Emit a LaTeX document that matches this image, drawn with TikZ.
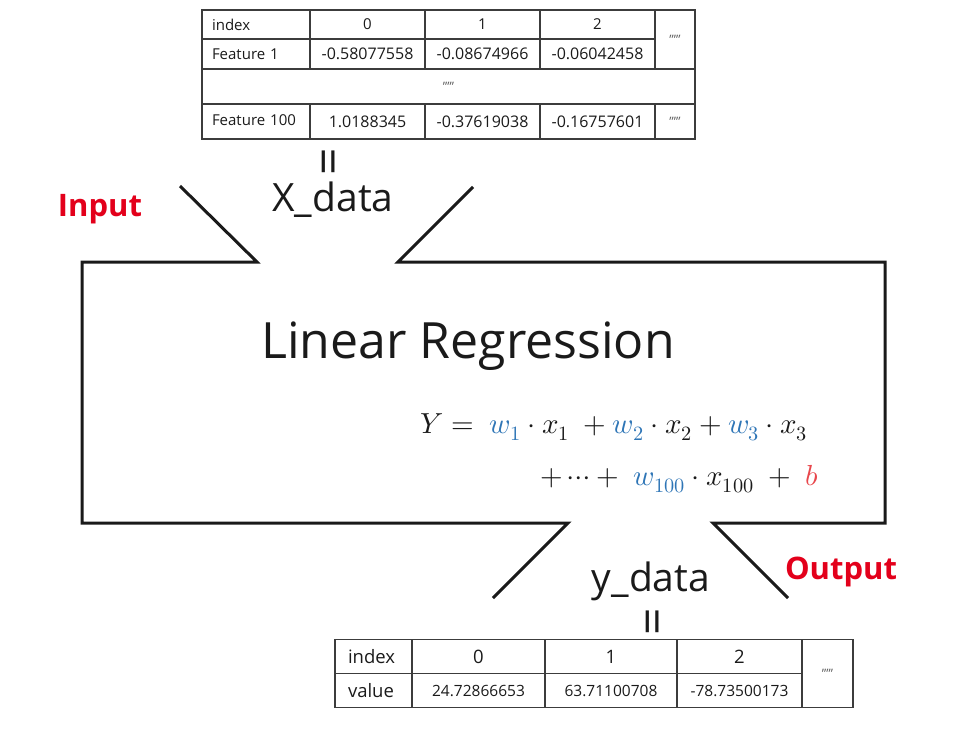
\documentclass[tikz,border=0pt]{standalone}
\usepackage{fontspec}
\usepackage{unicode-math}
\setmainfont{Open Sans}
\definecolor{ink}{HTML}{1A1A1A}
\definecolor{grid}{HTML}{3C3C3C}
\definecolor{wblue}{HTML}{2E75B6}
\definecolor{alert}{HTML}{E3001B}
\definecolor{bias}{HTML}{E8474C}

\begin{document}
\begin{tikzpicture}[
  x=1pt, y=-1pt,
  cell/.style 2 args={draw=grid, line width=1.2pt, inner sep=0pt,
                      minimum width=#1, minimum height=#2,
                      font=\fontsize{15}{17}\selectfont, text=ink},
  num/.style={font=\fontsize{16}{18}\selectfont},
  lead/.style={inner xsep=10pt, text width=#1, align=left},
  big/.style={cell={#1}{34pt}, font=\fontsize{18.5}{20}\selectfont},
  more/.style={font=\fontsize{13}{14}\selectfont, text=grid!80},
  wall/.style={draw=ink, line width=3pt, line join=miter},
  word/.style={font=\fontsize{39}{44}\selectfont, text=ink, inner sep=0pt},
  title/.style={font=\fontsize{50}{58}\selectfont, text=ink, inner sep=0pt},
  eqbar/.style={font=\fontsize{48}{50}\selectfont, text=ink, rotate=90, inner sep=0pt},
  flag/.style={font=\fontsize{31}{36}\selectfont\bfseries, text=alert, inner sep=0pt},
  formula/.style={font=\fontsize{29}{34}\selectfont, text=ink, inner sep=0pt, anchor=base west},
]
\useasboundingbox (0,0) rectangle (972,736);

% X_data table
\node[cell={108pt}{29pt}, lead=88pt] (a11) at (256,24.5) {index};
\node[cell={115pt}{29pt}] (a12) at (367.5,24.5) {0};
\node[cell={115pt}{29pt}] (a13) at (482.5,24.5) {1};
\node[cell={115pt}{29pt}] (a14) at (597.5,24.5) {2};
\node[cell={108pt}{30pt}, lead=88pt] (a21) at (256,54) {Feature 1};
\node[cell={115pt}{30pt}, num] (a22) at (367.5,54) {-0.58077558};
\node[cell={115pt}{30pt}, num] (a23) at (482.5,54) {-0.08674966};
\node[cell={115pt}{30pt}, num] (a24) at (597.5,54) {-0.06042458};
\node[cell={40pt}{59pt}, more] (a15) at (675,39.5) {’’’’’};
\node[cell={493pt}{35pt}, more] (a31) at (448.5,86.5) {\raisebox{-6pt}{’’’’’}};
\node[cell={108pt}{35pt}, lead=88pt] (a41) at (256,121.5) {\raisebox{3pt}{Feature 100}};
\node[cell={115pt}{35pt}, num] (a42) at (367.5,121.5) {\raisebox{-2pt}{1.0188345}};
\node[cell={115pt}{35pt}, num] (a43) at (482.5,121.5) {\raisebox{-2pt}{-0.37619038}};
\node[cell={115pt}{35pt}, num] (a44) at (597.5,121.5) {\raisebox{-2pt}{-0.16757601}};
\node[cell={40pt}{35pt}, more] (a45) at (675,121.5) {\raisebox{-9pt}{’’’’’}};

\node[eqbar] (xeq) at (334,161.5) {=};
\node[word] (xdata) at (333,200) {X\_data};
\node[flag] (input) at (100,209) {Input};

% the model box with its two funnels
\draw[wall] (180,186) -- (257,262) -- (82,262) -- (82,523) -- (568,523) -- (493,598);
\draw[wall] (473,187) -- (398,262) -- (885,262) -- (885,523) -- (713,523) -- (788,598);

\node[title] (model) at (468,346) {Linear Regression};

\node[formula] (line1) at (420,433)
  {$Y =\; \textcolor{wblue}{w_1}\cdot x_1 \;+ \textcolor{wblue}{w_2}\cdot x_2
   + \textcolor{wblue}{w_3}\cdot x_3$};
\node[formula] (line2) at (540,485)
  {$+\cdots+\; \textcolor{wblue}{w_{100}}\cdot x_{100} \;+\; \textcolor{bias}{b}$};

\node[word] (ydata) at (651,581) {y\_data};
\node[flag] (output) at (841,572) {Output};
\node[eqbar] (yeq) at (658,622) {=};

% y_data table
\node[big={77pt}, lead=51pt, inner xsep=13pt] (b11) at (373.5,656.5) {index};
\node[big={133pt}] (b12) at (478.5,656.5) {0};
\node[big={132pt}] (b13) at (611,656.5) {1};
\node[big={125pt}] (b14) at (739.5,656.5) {2};
\node[big={77pt}, lead=51pt, inner xsep=13pt] (b21) at (373.5,690.5) {value};
\node[cell={133pt}{34pt}, font=\fontsize{15.5}{17}\selectfont] (b22) at (478.5,690.5) {24.72866653};
\node[cell={132pt}{34pt}, font=\fontsize{15.5}{17}\selectfont] (b23) at (611,690.5) {63.71100708};
\node[cell={125pt}{34pt}, font=\fontsize{15.5}{17}\selectfont] (b24) at (739.5,690.5) {-78.73500173};
\node[cell={51pt}{68pt}, more] (b15) at (827.5,673.5) {’’’’’};
\end{tikzpicture}
\end{document}
